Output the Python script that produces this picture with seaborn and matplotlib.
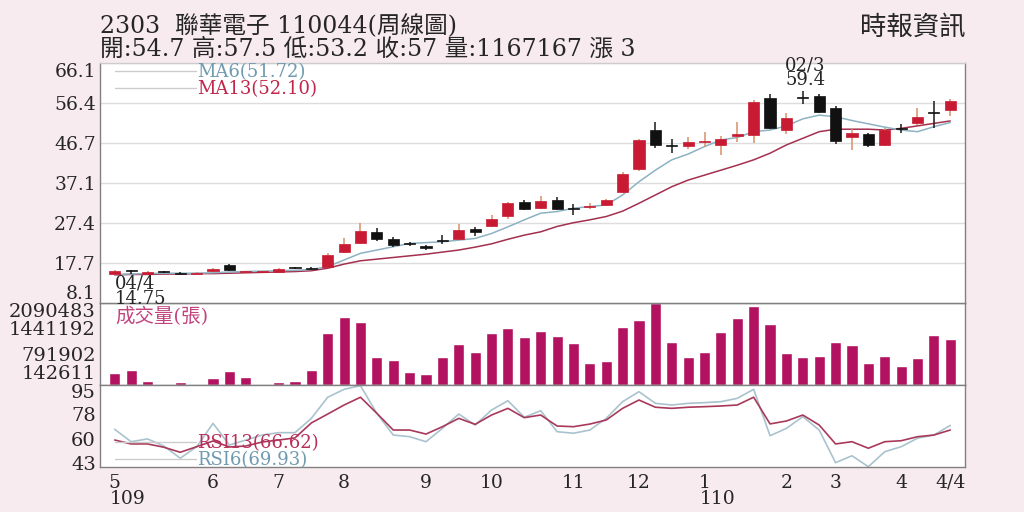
import numpy as np
import pandas as pd
import seaborn as sns
import matplotlib.pyplot as plt
from matplotlib.lines import Line2D

# weekly data (52 weeks, 109/5 .. 110/4/4)
open_p = [15.2, 16.0, 15.2, 15.7, 15.4, 15.1, 15.8, 17.3, 15.6, 15.6, 15.7, 16.65, 16.6,
          16.7, 20.5, 22.5, 25.2, 23.5, 22.4, 21.9, 23.3, 23.6, 25.9, 26.7, 29.2, 32.6,
          31.0, 33.0, 30.8, 31.3, 31.7, 34.9, 40.4, 49.9, 46.2, 46.1, 47.0, 46.3, 48.5,
          48.7, 57.7, 49.9, 57.7, 58.2, 55.3, 48.1, 48.9, 46.3, 50.4, 51.7, 54.2, 54.7]
close_p = [15.8, 15.9, 15.6, 15.5, 15.2, 15.4, 16.4, 16.0, 15.7, 15.7, 16.3, 16.6, 16.4,
           19.7, 22.4, 25.5, 23.6, 22.0, 22.3, 21.5, 23.1, 25.7, 25.2, 28.4, 32.2, 30.8,
           32.8, 30.8, 30.7, 31.5, 33.0, 39.2, 47.5, 46.3, 46.1, 46.9, 47.2, 47.8, 48.9,
           56.6, 50.5, 52.9, 57.6, 54.3, 47.3, 49.1, 46.3, 49.9, 50.2, 53.1, 54.0, 57]
high_p = [16.0, 16.1, 15.8, 15.9, 15.5, 15.6, 16.6, 17.5, 15.8, 15.8, 16.5, 16.9, 16.8,
          20.1, 23.7, 27.5, 26.2, 24.1, 22.9, 22.0, 24.5, 27.1, 26.5, 29.4, 32.6, 32.9,
          33.9, 33.6, 32.0, 32.2, 33.3, 39.8, 47.8, 51.9, 47.7, 48.3, 49.5, 48.5, 51.9,
          57.2, 58.6, 53.9, 59.4, 58.5, 55.8, 50.1, 49.2, 50.3, 51.3, 55.3, 57.0, 57.5]
low_p = [14.75, 15.2, 15.1, 15.3, 15.0, 15.0, 15.6, 15.9, 15.4, 15.5, 15.6, 16.3, 16.2,
         16.5, 20.1, 22.3, 23.1, 21.6, 21.8, 20.9, 22.4, 23.4, 24.4, 26.5, 28.4, 30.6,
         30.8, 30.6, 29.4, 30.8, 31.5, 34.7, 40.0, 45.5, 44.3, 45.3, 45.9, 43.9, 47.1,
         46.7, 50.2, 48.9, 56.2, 54.0, 46.5, 45.1, 45.9, 46.1, 49.1, 51.1, 50.3, 53.2]

ma6 = [15.0, 15.1, 15.2, 15.3, 15.3, 15.3, 15.4, 15.6, 15.7, 15.8, 15.9, 16.0, 16.2,
       16.9, 18.5, 20.1, 20.9, 21.7, 22.5, 22.7, 22.9, 23.3, 23.7, 24.9, 26.5, 28.2,
       29.8, 30.2, 31.0, 31.4, 31.8, 34.2, 37.4, 40.2, 42.7, 44.1, 45.9, 47.5, 48.1,
       49.5, 49.9, 50.9, 52.6, 53.5, 53.1, 52.2, 51.4, 50.6, 49.9, 49.5, 50.7, 51.72]
ma13 = [14.9, 15.0, 15.0, 15.1, 15.1, 15.2, 15.2, 15.3, 15.4, 15.5, 15.6, 15.7, 15.9,
        16.5, 17.5, 18.3, 18.7, 19.1, 19.5, 19.9, 20.4, 20.9, 21.6, 22.4, 23.5, 24.5,
        25.3, 26.6, 27.5, 28.2, 29.0, 30.3, 32.2, 34.2, 36.2, 37.8, 39.0, 40.2, 41.4,
        42.7, 44.3, 46.3, 47.9, 49.5, 50.1, 50.1, 50.1, 49.9, 50.3, 50.9, 51.5, 52.10]

volume = [314000, 382000, 102000, 33000, 84000, 18000, 178000, 365000, 204000, 10000,
          76000, 110000, 382000, 1318000, 1741000, 1614000, 706000, 637000, 324000,
          288000, 722000, 1037000, 841000, 1318000, 1445000, 1216000, 1377000, 1249000,
          1063000, 553000, 620000, 1471000, 1657000, 2090483, 1096000, 722000, 841000,
          1359000, 1700000, 2022000, 1555000, 808000, 722000, 747000, 1104000, 1020000,
          553000, 747000, 477000, 681000, 1275000, 1167167]

rsi6 = [67.1, 58.2, 60.2, 55.1, 46.3, 54.6, 71.4, 55.8, 59.4, 63.0, 64.7, 64.7, 75.0,
        90.2, 95.9, 98.5, 78.6, 63.0, 61.8, 58.2, 67.8, 78.1, 70.2, 81.0, 87.7, 75.8,
        80.5, 65.4, 64.3, 66.6, 75.0, 87.0, 94.2, 85.8, 84.6, 85.8, 86.3, 87.0, 89.4,
        95.9, 62.5, 67.8, 76.2, 66.6, 43.1, 48.1, 40.2, 51.0, 54.6, 60.7, 63.0, 69.93]
rsi13 = [59.4, 56.6, 56.6, 54.2, 50.6, 54.6, 58.7, 54.4, 55.1, 58.0, 59.4, 60.9, 71.7,
         78.1, 84.6, 90.2, 78.6, 66.6, 66.6, 63.7, 69.0, 75.0, 70.7, 77.4, 82.2, 75.5,
         77.4, 69.5, 69.0, 70.9, 73.8, 82.2, 88.2, 83.0, 82.2, 83.0, 83.4, 83.9, 84.6,
         90.2, 71.0, 73.1, 77.4, 70.2, 56.6, 58.2, 53.5, 58.2, 58.9, 61.8, 63.0, 66.62]

month_weeks = [0, 6, 10, 14, 19, 23, 28, 32, 36, 41, 44, 48, 51]
month_labels = ['5', '6', '7', '8', '9', '10', '11', '12', '1', '2', '3', '4', '4/4']
year_weeks = [0, 36]
year_labels = ['109', '110']

price_ticks = [8.1, 17.7, 27.4, 37.1, 46.7, 56.4, 66.1]
vol_ticks = [142611, 791902, 1441192, 2090483]
rsi_ticks = [43, 60, 78, 95]

low_date = '04/4'
high_date = '02/3'
title = '2303  聯華電子 110044(周線圖)'
source = '時報資訊'
change = 3

df = pd.DataFrame({'open': open_p, 'close': close_p, 'high': high_p, 'low': low_p,
                   'ma6': ma6, 'ma13': ma13, 'vol': volume,
                   'rsi6': rsi6, 'rsi13': rsi13})
df['week'] = np.arange(len(df))

sns.set_style("white")
plt.rcParams['font.family'] = ['DejaVu Serif', 'Noto Sans CJK TC']

bg = '#f8ebf0'
red = '#c81a32'
fig = plt.figure(figsize=(10.24, 5.12), dpi=100, facecolor=bg)
left, width = 100 / 1024, 865 / 1024
ax1 = fig.add_axes([left, 1 - 303 / 512, width, 240 / 512])
ax2 = fig.add_axes([left, 1 - 385 / 512, width, 82 / 512], sharex=ax1)
ax3 = fig.add_axes([left, 1 - 467 / 512, width, 82 / 512], sharex=ax1)
ax1.set_zorder(3)

# candles
up = df['close'] >= df['open']
body_bot = df[['open', 'close']].min(axis=1)
body_h = (df['close'] - df['open']).abs().clip(lower=0.25)
wick_cols = np.where(up, '#d99068', '#1a1a1a')
body_cols = np.where(up, red, '#111111')
sns.lineplot(data=df, x='week', y='ma13', ax=ax1, color='#a3304e', lw=1.1, zorder=1)
sns.lineplot(data=df, x='week', y='ma6', ax=ax1, color='#8db2c2', lw=1.1, zorder=1)
ax1.vlines(df['week'], df['low'], df['high'], colors=wick_cols, lw=1.1, zorder=2)
ax1.bar(df['week'], body_h, bottom=body_bot, width=0.68, color=body_cols,
        edgecolor=body_cols, lw=0.5, zorder=3)

ax1.set_ylim(price_ticks[0], price_ticks[-1])
ax1.set_yticks(price_ticks, [f'{v:g}' for v in price_ticks])
ax1.grid(axis='y', color='#dddddd', lw=1)
ax1.set_axisbelow(True)

lo_i = int(np.argmin(df['low']))
hi_i = int(np.argmax(df['high']))
ax1.annotate(f"{low_date}\n{df['low'][lo_i]:g}", xy=(lo_i, df['low'][lo_i]),
             xytext=(0, 0.5), textcoords='offset points', ha='left', va='top',
             fontsize=13, linespacing=0.78, annotation_clip=False)
ax1.annotate(f"{high_date}\n{df['high'][hi_i]:g}", xy=(hi_i, df['high'][hi_i]),
             xytext=(2, 1), textcoords='offset points', ha='center', va='bottom',
             fontsize=13, linespacing=0.8)

swatch = [Line2D([], [], color='#cccccc', lw=1), Line2D([], [], color='#cccccc', lw=1)]
leg = ax1.legend(swatch, [f'MA6({ma6[-1]:.2f})', f'MA13({ma13[-1]:.2f})'],
                 loc='upper left', bbox_to_anchor=(15 / 865, 1.0), frameon=False,
                 fontsize=13, handlelength=4.5, handletextpad=0.05, labelspacing=-0.05,
                 borderpad=0, borderaxespad=0)
for t, c in zip(leg.get_texts(), ['#6f9ab0', '#c0254a']):
    t.set_color(c)

# volume
sns.barplot(data=df, x='week', y='vol', ax=ax2, native_scale=True, color='#b2125f',
            saturation=1, width=0.68, errorbar=None)
ax2.set_ylim(0, vol_ticks[-1])
ax2.set_yticks(vol_ticks, [str(v) for v in vol_ticks])
ax2.text(15 / 865, 0.95, '成交量(張)', transform=ax2.transAxes, ha='left', va='top',
         fontsize=14, color='#c2447e')

# RSI
sns.lineplot(data=df, x='week', y='rsi6', ax=ax3, color='#a9c3ce', lw=1.2)
sns.lineplot(data=df, x='week', y='rsi13', ax=ax3, color='#a8395a', lw=1.2)
ax3.set_ylim(40, 99)
ax3.set_yticks(rsi_ticks, [str(v) for v in rsi_ticks])
leg3 = ax3.legend(swatch, [f'RSI13({rsi13[-1]:.2f})', f'RSI6({rsi6[-1]:.2f})'],
                  loc='lower left', bbox_to_anchor=(15 / 865, -0.03), frameon=False,
                  fontsize=13, handlelength=4.5, handletextpad=0.05, labelspacing=-0.05,
                  borderpad=0, borderaxespad=0)
for t, c in zip(leg3.get_texts(), ['#b8305a', '#6f9ab0']):
    t.set_color(c)

ax3.set_xticks(month_weeks, month_labels)
ax3.set_xticks(df['week'], minor=True)
ax3.tick_params(axis='x', which='major', length=4, color='#888888', labelsize=13.5, pad=1)
ax3.tick_params(axis='x', which='minor', length=2, color='#aaaaaa')
for w, lab in zip(year_weeks, year_labels):
    ax3.text(w - 0.3, -0.39, lab, transform=ax3.get_xaxis_transform(), ha='left',
             va='center', fontsize=13.5)

for ax in (ax1, ax2, ax3):
    ax.set_xlabel('')
    ax.set_ylabel('')
    ax.set_facecolor('white')
    ax.tick_params(axis='y', length=0, pad=3, labelsize=13.5)
    for s in ax.spines.values():
        s.set_visible(True)
        s.set_color('#808080')
        s.set_linewidth(1)
ax1.spines['top'].set_color('#cccccc')
ax2.tick_params(axis='y', labelsize=14)
ax3.tick_params(axis='y', labelsize=14)
for ax in (ax1, ax2):
    ax.tick_params(axis='x', which='both', bottom=False, labelbottom=False)
ax1.set_xlim(-0.9, len(df) - 0.1)

lab1 = ax1.get_yticklabels()
lab1[0].set_va('bottom')
lab1[-1].set_va('top')
lab2 = ax2.get_yticklabels()
lab2[0].set_va('baseline')
lab2[-1].set_va('top')
lab3 = ax3.get_yticklabels()
lab3[0].set_va('center_baseline')

# header
fig.text(left, 1 - 26 / 512, title, fontsize=17, ha='left', va='center')
last = df.iloc[-1]
info = (f"開:{last['open']:g} 高:{last['high']:g} 低:{last['low']:g} "
        f"收:{last['close']:g} 量:{int(last['vol'])} 漲 {change}")
fig.text(left, 1 - 49 / 512, info, fontsize=17, ha='left', va='center')
fig.text(965 / 1024, 1 - 27 / 512, source, fontsize=19, ha='right', va='center')

fig.savefig('out.png', dpi=100, facecolor=bg)
